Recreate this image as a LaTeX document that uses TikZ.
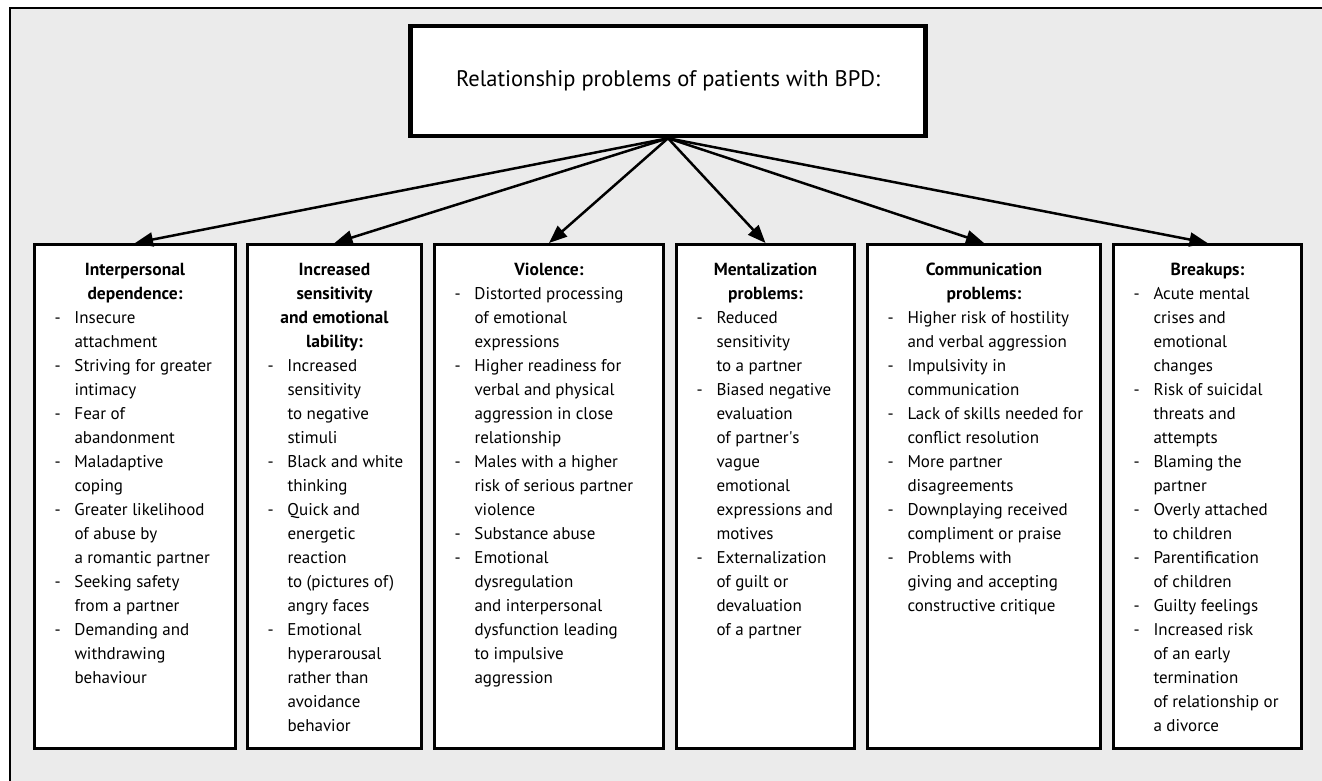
\documentclass[tikz,border=0pt]{standalone}
\usepackage{fontspec}
\setmainfont{PT Sans}
\usetikzlibrary{arrows.meta, positioning}
\definecolor{bggray}{RGB}{235,235,235}

% text of one category box: width, heading, list rows
\newcommand{\boxtext}[3]{%
  \parbox[c][494pt][t]{#1}{\fontsize{17}{24}\selectfont\vspace*{9pt}%
    \centering\strut{\fontsize{17.5}{24}\selectfont\bfseries #2\par}
    \normalfont\raggedright\hspace*{20pt}%
    \begin{tabular}[t]{@{}p{20pt}@{}l@{}}#3\end{tabular}}}

\begin{document}
\begin{tikzpicture}[x=1pt, y=-1pt,
    topbox/.style={draw, fill=white, line width=4.5pt, minimum width=515pt,
      minimum height=110pt, font=\fontsize{22.5}{26}\selectfont},
    catbox/.style={draw, fill=white, line width=3pt, inner sep=0pt,
      minimum height=504pt, anchor=north west},
    arr/.style={line width=2.5pt, -{Triangle[length=18pt, width=14pt]}}]
    \useasboundingbox (0,0) rectangle (1322,781);
    \fill[bggray] (10,8) rectangle (1322,781);
    \draw[line width=2pt] (10,781) -- (10,8) -- (1322,8);

    \node[topbox] (bpd) at (668,81) {Relationship problems of patients with BPD:};

    \node[catbox, minimum width=201pt] (dep) at (33,243) {\boxtext{201pt}{Interpersonal\\dependence:}{%
      - & Insecure\\ & attachment\\
      - & Striving for greater\\ & intimacy\\
      - & Fear of\\ & abandonment\\
      - & Maladaptive\\ & coping\\
      - & Greater likelihood\\ & of abuse by\\ & a romantic partner\\
      - & Seeking safety\\ & from a partner\\
      - & Demanding and\\ & withdrawing\\ & behaviour}};
    \node[catbox, minimum width=174pt] (lab) at (246,243) {\boxtext{174pt}{Increased\\sensitivity\\and emotional\\lability:}{%
      - & Increased\\ & sensitivity\\ & to negative\\ & stimuli\\
      - & Black and white\\ & thinking\\
      - & Quick and\\ & energetic\\ & reaction\\ & to (pictures of)\\ & angry faces\\
      - & Emotional\\ & hyperarousal\\ & rather than\\ & avoidance\\ & behavior}};
    \node[catbox, minimum width=229pt] (vio) at (433,243) {\boxtext{229pt}{Violence:}{%
      - & Distorted processing\\ & of emotional\\ & expressions\\
      - & Higher readiness for\\ & verbal and physical\\ & aggression in close\\ & relationship\\
      - & Males with a higher\\ & risk of serious partner\\ & violence\\
      - & Substance abuse\\
      - & Emotional\\ & dysregulation\\ & and interpersonal\\ & dysfunction leading\\ & to impulsive\\ & aggression}};
    \node[catbox, minimum width=178pt] (men) at (675,243) {\boxtext{178pt}{Mentalization\\problems:}{%
      - & Reduced\\ & sensitivity\\ & to a partner\\
      - & Biased negative\\ & evaluation\\ & of partner\textquotesingle s\\ & vague\\ & emotional\\ & expressions and\\ & motives\\
      - & Externalization\\ & of guilt or\\ & devaluation\\ & of a partner}};
    \node[catbox, minimum width=233pt] (com) at (866,243) {\boxtext{233pt}{Communication\\problems:}{%
      - & Higher risk of hostility\\ & and verbal aggression\\
      - & Impulsivity in\\ & communication\\
      - & Lack of skills needed for\\ & conflict resolution\\
      - & More partner\\ & disagreements\\
      - & Downplaying received\\ & compliment or praise\\
      - & Problems with\\ & giving and accepting\\ & constructive critique}};
    \node[catbox, minimum width=188pt] (brk) at (1112,243) {\boxtext{188pt}{Breakups:}{%
      - & Acute mental\\ & crises and\\ & emotional\\ & changes\\
      - & Risk of suicidal\\ & threats and\\ & attempts\\
      - & Blaming the\\ & partner\\
      - & Overly attached\\ & to children\\
      - & Parentification\\ & of children\\
      - & Guilty feelings\\
      - & Increased risk\\ & of an early\\ & termination\\ & of relationship or\\ & a divorce}};

    \draw[arr] (bpd.south) -- (dep.north);
    \draw[arr] (bpd.south) -- (lab.north);
    \draw[arr] (bpd.south) -- (vio.north);
    \draw[arr] (bpd.south) -- (men.north);
    \draw[arr] (bpd.south) -- (com.north);
    \draw[arr] (bpd.south) -- (brk.north);
\end{tikzpicture}
\end{document}
